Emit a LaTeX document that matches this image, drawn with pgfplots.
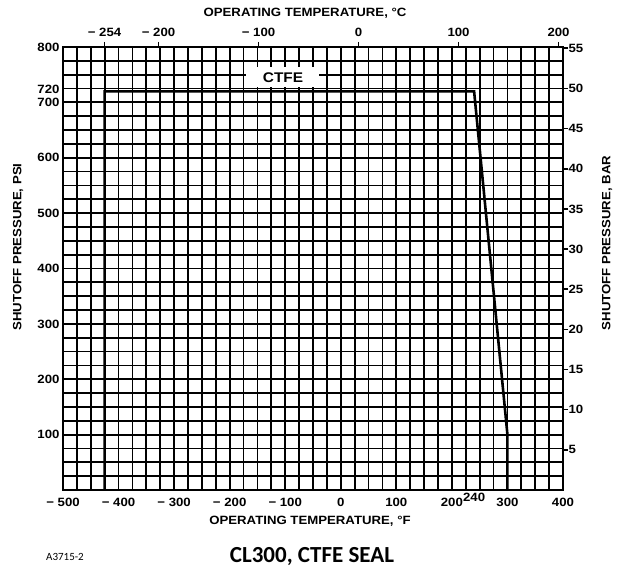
\documentclass[border=0pt]{standalone}
\usepackage{fontspec}
\setmainfont{Liberation Sans}
\newfontfamily\lab{Liberation Sans}[FakeStretch=1.1]
\newfontfamily\ttl{Carlito}
\usepackage{pgfplots}
\pgfplotsset{compat=1.18}
\begin{document}
\begin{tikzpicture}
\begin{axis}[
 scale only axis, width=500pt, height=443pt,
 xmin=-500, xmax=400, ymin=0, ymax=800,
 xtick={-500,-400,...,400},
 xticklabels={{−\ 500},{−\ 400},{−\ 300},{−\ 200},{−\ 100},0,100,200,300,400},
 ytick={0,100,...,800},
 yticklabels={,100,200,300,400,500,600,700,800},
 extra x ticks={240}, extra x tick labels={240},
 extra x tick style={grid=none, tick label style={yshift=5pt, xshift=0pt}},
 extra y ticks={720}, extra y tick labels={720}, extra y tick style={grid=none, tick label style={yshift=2pt}},
 minor x tick num=3, minor y tick num=3,
 grid=both,
 major grid style={black, line width=1.8pt},
 minor grid style={black, line width=1.8pt},
 major tick length=0pt, minor tick length=0pt,
 axis line style={black, line width=2.2pt},
 tick label style={font=\lab\bfseries\fontsize{12}{13}\selectfont},
 xticklabel style={yshift=-5pt},
]
\addplot[black, line width=2.6pt] coordinates {(-425,0) (-425,720) (240,720) (300,100) (300,0)};
\node[fill=white, minimum width=73pt, minimum height=20pt, inner sep=0pt, font=\lab\bfseries\fontsize{14}{15}\selectfont] at (axis cs:-104,745) {CTFE};
\end{axis}
\begin{axis}[
 scale only axis, width=500pt, height=443pt,
 xmin=-295.556, xmax=204.444, ymin=0, ymax=55.158,
 axis x line*=top, axis y line*=right,
 xtick={-254,-200,-100,0,100,200},
 xticklabels={{−\ 254},{−\ 200},{−\ 100},0,100,200},
 ytick={5,10,15,20,25,30,35,40,45,50,55},
 yticklabels={5,10,15,20,25,30,35,40,45,50,55},
 tick align=outside, major tick length=5pt,
 tick style={black, line width=1.6pt},
 axis line style={black, line width=2.2pt, -},
 tick label style={font=\lab\bfseries\fontsize{12}{13}\selectfont},
 yticklabel style={xshift=-3pt},
 xticklabel style={yshift=2pt},
]
\addplot[draw=none] coordinates {(0,0)};
\end{axis}
\tikzset{lbl/.style={font=\lab\bfseries\fontsize{12}{13}\selectfont}}
\node[lbl, rotate=90] at (-45pt,243pt) {SHUTOFF PRESSURE, PSI};
\node[lbl, rotate=90] at (544pt,247pt) {SHUTOFF PRESSURE, BAR};
\node[lbl] at (242pt,477pt) {OPERATING TEMPERATURE, °C};
\node[lbl] at (247pt,-31pt) {OPERATING TEMPERATURE, °F};
\node[font=\ttl\bfseries\fontsize{23}{26}\selectfont] at (249pt,-67pt) {CL300, CTFE SEAL};
\node[font=\ttl\fontsize{11}{12}\selectfont] at (2pt,-67pt) {A3715-2};
\pgfresetboundingbox
\path (-63pt,-81pt) rectangle (558pt,490pt);
\end{tikzpicture}
\end{document}
